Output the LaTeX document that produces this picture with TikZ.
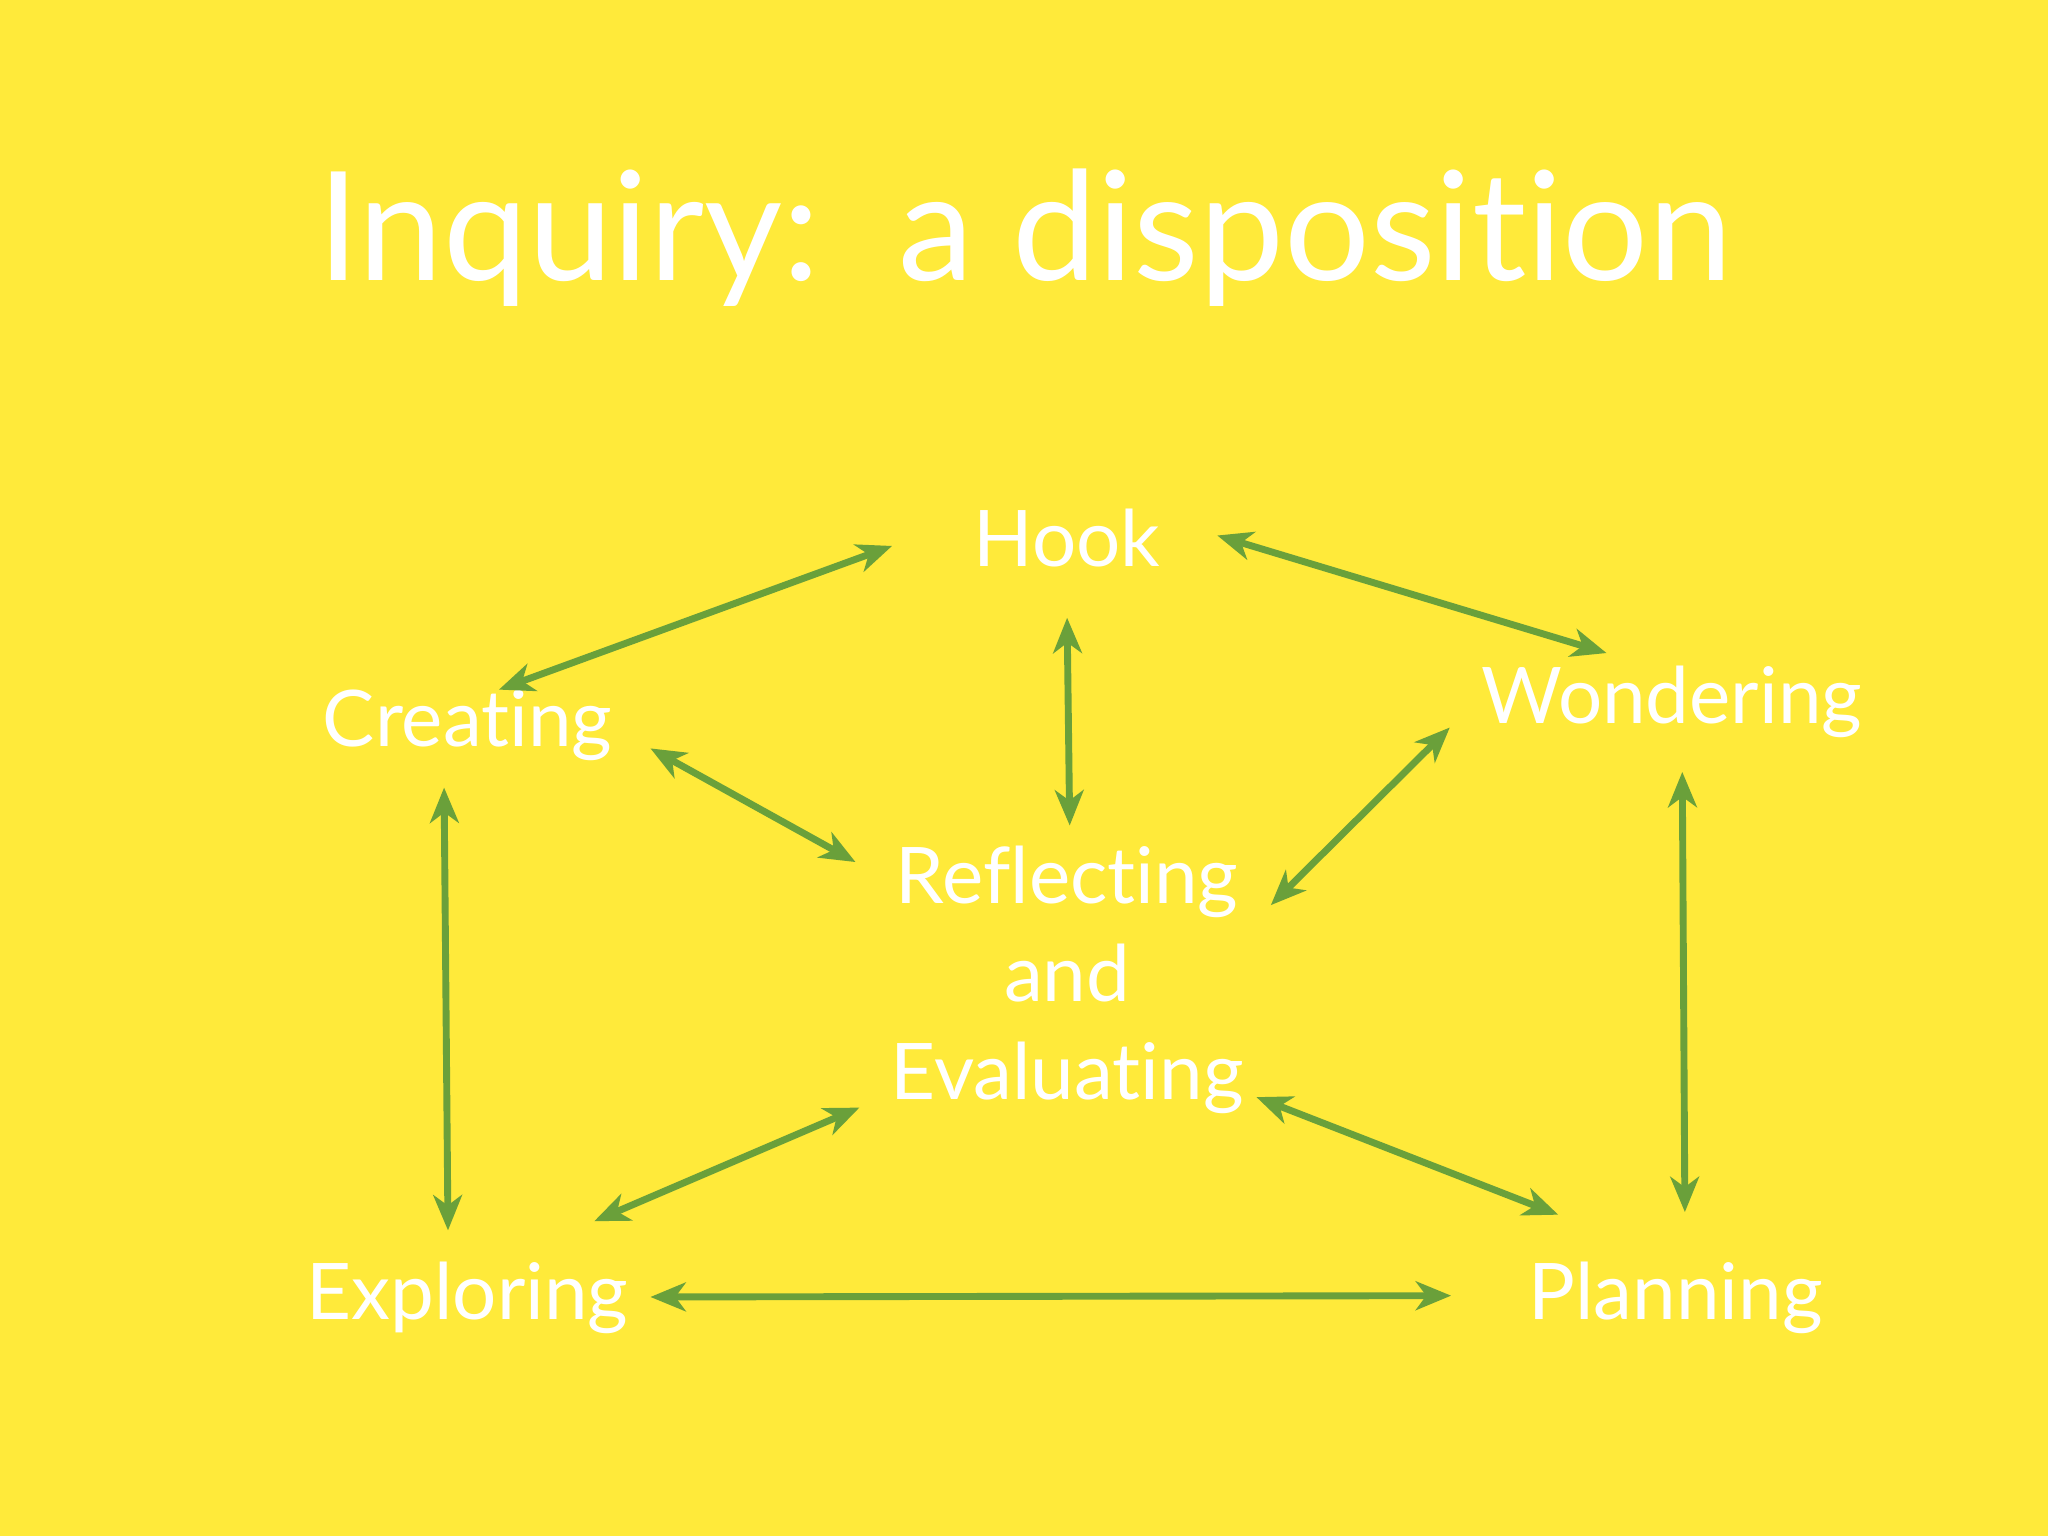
\documentclass[tikz,border=0pt]{standalone}
\usepackage{fontspec}
\setmainfont{Lato}[Ligatures=NoCommon]
\usetikzlibrary{arrows.meta}
\definecolor{bg}{RGB}{255,234,58}
\definecolor{arr}{RGB}{106,160,58}
\begin{document}
\begin{tikzpicture}[x=0.01cm,y=-0.01cm,
  lbl/.style={text=white,font=\fontsize{17pt}{21.3pt}\selectfont,inner sep=0pt},
  link/.style={draw=arr,line width=1.5pt,{Stealth[length=0.27cm,width=0.22cm,inset=0.08cm]}-{Stealth[length=0.27cm,width=0.22cm,inset=0.08cm]}}]
\fill[bg] (0,0) rectangle (1568,1176);
\useasboundingbox (0,0) rectangle (1568,1176);
\node[text=white,font=\fontsize{33pt}{40pt}\selectfont,inner sep=0pt] (title) at (785,182) {Inquiry:\ \ a disposition};
\node[lbl] (hook) at (817,412) {Hook};
\node[lbl] (creating) at (358,555) {Creating};
\node[lbl] (wondering) at (1280,537) {Wondering};
\node[lbl,align=center] (refl) at (817,750) {Reflecting\\and\\Evaluating};
\node[lbl] (exploring) at (358,994) {Exploring};
\node[lbl] (planning) at (1283,994) {Planning};
\coordinate (a1) at (683,418); \coordinate (a2) at (382,528);
\coordinate (b1) at (932,410); \coordinate (b2) at (1230,500);
\coordinate (c1) at (817,473); \coordinate (c2) at (819,632);
\coordinate (d1) at (498,573); \coordinate (d2) at (655,660);
\coordinate (e1) at (1110,557); \coordinate (e2) at (973,693);
\coordinate (f1) at (340,603); \coordinate (f2) at (343,942);
\coordinate (g1) at (1288,591); \coordinate (g2) at (1290,928);
\coordinate (h1) at (658,848); \coordinate (h2) at (455,935);
\coordinate (i1) at (962,840); \coordinate (i2) at (1193,930);
\coordinate (j1) at (498,993); \coordinate (j2) at (1111,992);
\foreach \p in {a,b,c,d,e,f,g,h,i,j} \draw[link] (\p1) -- (\p2);
\end{tikzpicture}
\end{document}
